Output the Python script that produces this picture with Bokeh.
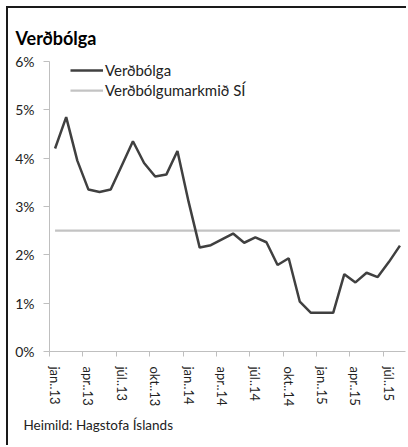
from bokeh.plotting import figure
from bokeh.models import (Range1d, FixedTicker, PrintfTickFormatter, Legend, LegendItem, Title)
from bokeh.embed import file_html
from bokeh.resources import INLINE

# ---- data ----
months = ["jan..13", "feb..13", "mar..13", "apr..13", "maí..13", "jún..13", "júl..13", "ágú..13",
          "sep..13", "okt..13", "nóv..13", "des..13",
          "jan..14", "feb..14", "mar..14", "apr..14", "maí..14", "jún..14", "júl..14", "ágú..14",
          "sep..14", "okt..14", "nóv..14", "des..14",
          "jan..15", "feb..15", "mar..15", "apr..15", "maí..15", "jún..15", "júl..15", "ágú..15"]
inflation = [4.2, 4.85, 3.95, 3.35, 3.3, 3.35, 3.85, 4.35, 3.9, 3.62, 3.66, 4.15,
             3.1, 2.15, 2.2, 2.32, 2.44, 2.25, 2.36, 2.26, 1.79, 1.93, 1.03, 0.8,
             0.8, 0.8, 1.6, 1.43, 1.63, 1.54, 1.85, 2.19]
target = [2.5, 2.5, 2.5, 2.5, 2.5, 2.5, 2.5, 2.5, 2.5, 2.5, 2.5, 2.5,
          2.5, 2.5, 2.5, 2.5, 2.5, 2.5, 2.5, 2.5, 2.5, 2.5, 2.5, 2.5,
          2.5, 2.5, 2.5, 2.5, 2.5, 2.5, 2.5, 2.5]
label_every = 3
y_ticks = [0, 1, 2, 3, 4, 5, 6]

FONT = "Lato"
TXT = "#222222"
AX = "#bfbfbf"

x = list(range(len(months)))

p = figure(width=400, height=439, output_backend="svg", toolbar_location=None,
           x_range=Range1d(-0.5, len(months) - 0.5), y_range=Range1d(0, 6),
           min_border_left=41, min_border_right=3, min_border_top=53, min_border_bottom=96)
p.styles = {"margin-left": "6px", "margin-top": "6px",
            "border-left": "2px solid #1a1a1a", "border-top": "2px solid #1a1a1a"}
p.outline_line_color = None
p.background_fill_color = "white"
p.border_fill_color = "white"
p.xgrid.visible = False
p.ygrid.visible = False

r_target = p.line(x, target, line_color="#c3c3c3", line_width=2.25)
r_infl = p.line(x, inflation, line_color="#404040", line_width=2.5)

# x axis: labels at category centres, tick marks at category boundaries
xa = p.xaxis[0]
major = [i for i in x if i % label_every == 0]
xa.ticker = FixedTicker(ticks=major, minor_ticks=[i - 0.5 for i in major])
xa.major_label_overrides = {i: months[i] for i in major}
xa.major_label_orientation = "vertical"
xa.major_tick_out = 0
xa.major_tick_in = 0
xa.minor_tick_out = 5
xa.minor_tick_in = 0
xa.minor_tick_line_color = AX
xa.axis_line_color = AX
xa.major_label_standoff = 10
xa.major_label_text_font = FONT
xa.major_label_text_font_size = "13px"
xa.major_label_text_color = TXT

ya = p.yaxis[0]
ya.ticker = FixedTicker(ticks=y_ticks, minor_ticks=[])
ya.formatter = PrintfTickFormatter(format="%d%%")
ya.major_tick_out = 6
ya.major_tick_in = 0
ya.major_tick_line_color = AX
ya.minor_tick_line_color = None
ya.axis_line_color = AX
ya.major_label_standoff = 9
ya.major_label_text_font = FONT
ya.major_label_text_font_size = "14px"
ya.major_label_text_color = TXT

legend = Legend(items=[LegendItem(label="Verðbólga", renderers=[r_infl]),
                       LegendItem(label="Verðbólgumarkmið SÍ", renderers=[r_target])],
                location=(21, 251), orientation="vertical",
                padding=0, margin=0, spacing=0, label_height=20, glyph_height=20,
                glyph_width=33, label_standoff=2,
                background_fill_alpha=0, border_line_color=None,
                label_text_font=FONT, label_text_font_size="15px", label_text_color=TXT)
p.add_layout(legend, "center")

p.title.text = "Verðbólga"
p.title.align = "left"
p.title.offset = -34
p.title.standoff = 25
p.title.vertical_align = "bottom"
p.title.text_font = FONT
p.title.text_font_style = "bold"
p.title.text_font_size = "18px"
p.title.text_color = "#000000"

src = Title(text="Heimild: Hagstofa Íslands", align="left", offset=-26, vertical_align="top",
            standoff=14, text_font=FONT, text_font_style="normal", text_font_size="13.5px",
            text_color=TXT)
p.add_layout(src, "below")

open("out.html", "w").write(file_html(p, INLINE))
